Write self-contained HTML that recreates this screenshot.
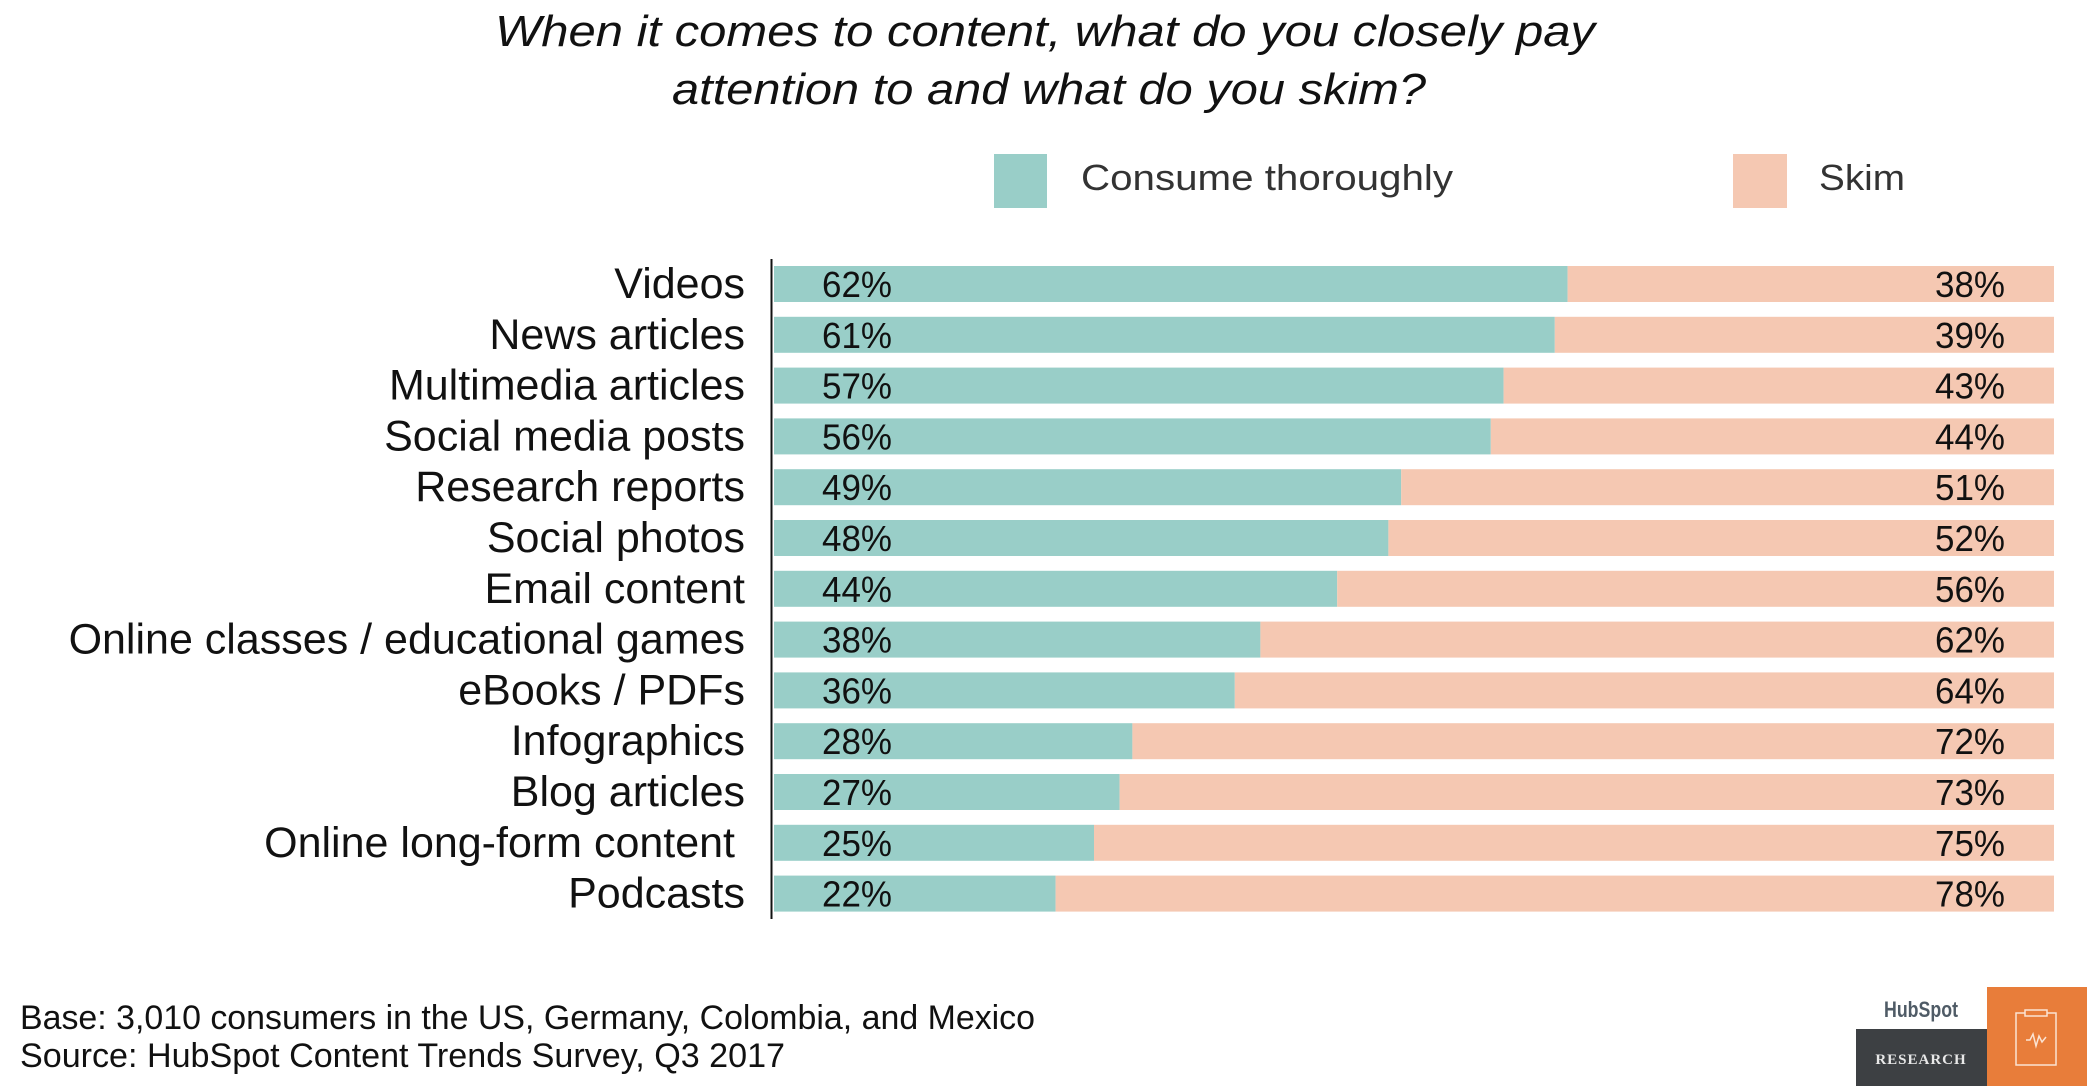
<!DOCTYPE html>
<html><head><meta charset="utf-8"><style>html,body{margin:0;padding:0;background:#fff}svg{display:block}</style></head>
<body>
<svg width="2100" height="1086" viewBox="0 0 2100 1086" xmlns="http://www.w3.org/2000/svg" font-family="Liberation Sans, sans-serif">
<rect width="2100" height="1086" fill="#fff"/>
<g font-style="italic" font-size="44" fill="#111" text-anchor="middle">
<text x="1045" y="46" textLength="1100" lengthAdjust="spacingAndGlyphs">When it comes to content, what do you closely pay</text>
<text x="1049" y="104" textLength="754" lengthAdjust="spacingAndGlyphs">attention to and what do you skim?</text>
</g>
<rect x="994" y="154" width="53" height="54" fill="#99CEC8"/>
<text x="1081" y="190" font-size="36" fill="#333" textLength="372" lengthAdjust="spacingAndGlyphs">Consume thoroughly</text>
<rect x="1733" y="154" width="54" height="54" fill="#F5C8B2"/>
<text x="1819" y="190" font-size="36" fill="#333" textLength="86" lengthAdjust="spacingAndGlyphs">Skim</text>
<line x1="771.5" y1="259" x2="771.5" y2="919" stroke="#111" stroke-width="2"/>
<g id="bars" font-size="36" fill="#111"></g>
<g font-size="34" fill="#111">
<text x="20" y="1029" textLength="1015" lengthAdjust="spacingAndGlyphs">Base: 3,010 consumers in the US, Germany, Colombia, and Mexico</text>
<text x="20" y="1067" textLength="765" lengthAdjust="spacingAndGlyphs">Source: HubSpot Content Trends Survey, Q3 2017</text>
</g>
<text x="1884" y="1017" font-size="22" font-weight="bold" fill="#4f5b66" textLength="74" lengthAdjust="spacingAndGlyphs">HubSpot</text>
<rect x="1856" y="1029" width="131" height="57" fill="#3D4043"/>
<text x="1921" y="1064" font-size="15" font-weight="bold" fill="#e8e8e8" text-anchor="middle" font-family="Liberation Serif, serif" letter-spacing="1">RESEARCH</text>
<rect x="1987" y="987" width="100" height="99" fill="#E87D3A"/>
<rect x="2016" y="1013" width="40" height="52" fill="none" stroke="#fbe3d3" stroke-width="1.5"/>
<rect x="2025" y="1010" width="22" height="6" fill="#E87D3A" stroke="#fbe3d3" stroke-width="1.5"/>
<polyline points="2026,1040 2030,1040 2033,1034 2036,1046 2039,1036 2042,1042 2046,1037" fill="none" stroke="#fbe3d3" stroke-width="1.5"/>
</svg>
<script>
var d=[["Videos",62],["News articles",61],["Multimedia articles",57],["Social media posts",56],["Research reports",49],["Social photos",48],["Email content",44],["Online classes / educational games",38],["eBooks / PDFs",36],["Infographics",28],["Blog articles",27],["Online long-form content",25],["Podcasts",22]];
var g=document.getElementById('bars'),h="";
d.forEach(function(r,i){var y=266+i*50.8,w=r[1]*12.8;
h+='<rect x="774" y="'+y+'" width="'+w+'" height="36" fill="#99CEC8"/>';
h+='<rect x="'+(774+w)+'" y="'+y+'" width="'+(1280-w)+'" height="36" fill="#F5C8B2"/>';
h+='<text x="822" y="'+(y+31)+'" textLength="70" lengthAdjust="spacingAndGlyphs">'+r[1]+'%</text>';
h+='<text x="2005" y="'+(y+31)+'" text-anchor="end" textLength="70" lengthAdjust="spacingAndGlyphs">'+(100-r[1])+'%</text>';
h+='<text x="'+(r[0]=="Online long-form content"?735:745)+'" y="'+(y+32)+'" font-size="43" text-anchor="end">'+r[0]+'</text>';});
g.innerHTML=h;
</script>
</body></html>
